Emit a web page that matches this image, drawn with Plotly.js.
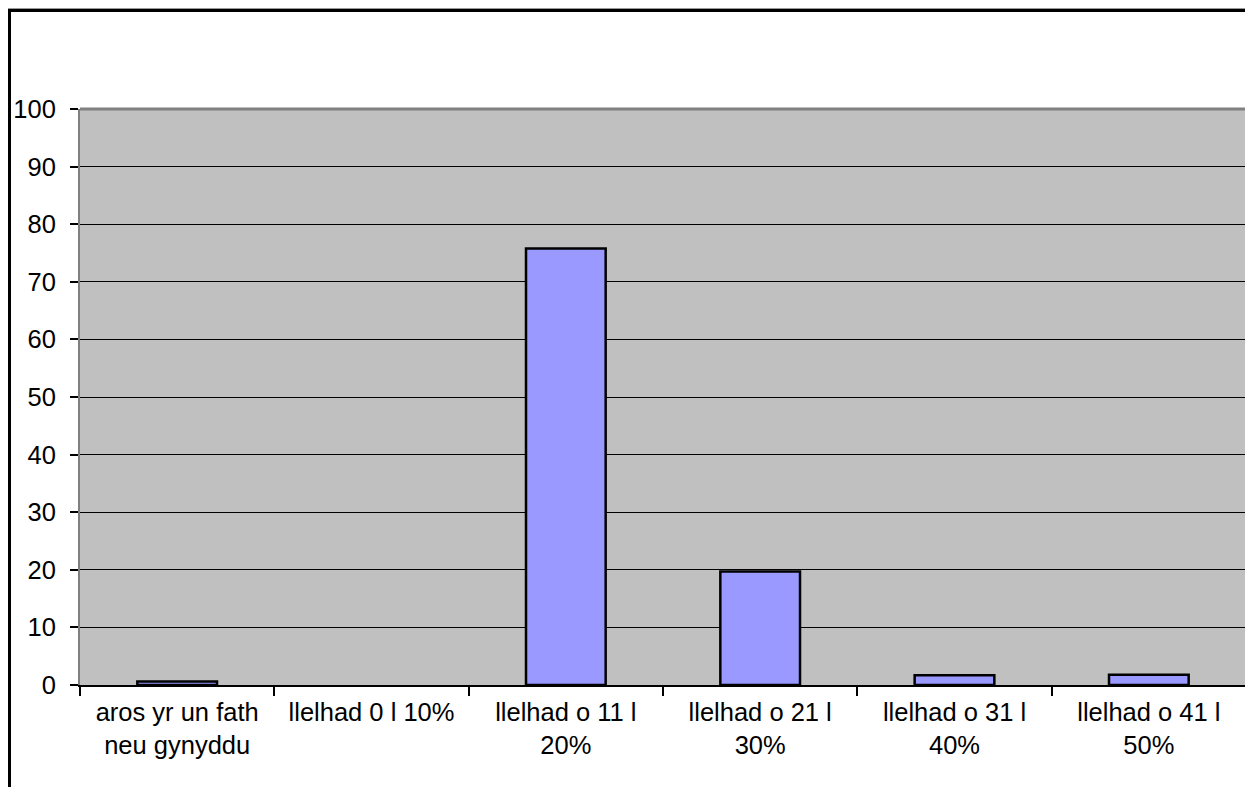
<!DOCTYPE html>
<html>
<head>
<meta charset="utf-8">
<script src="https://cdn.plot.ly/plotly-3.0.1.min.js"></script>
<style>
  html, body { margin: 0; padding: 0; overflow: hidden; background: #fff; }
  #clip { position: relative; width: 1245px; height: 787px; overflow: hidden; }
  #frame { position: absolute; left: 8px; top: 9px; width: 1400px; height: 1000px;
           border-left: 3px solid #000; border-top: 3px solid #000; }
  #topline { position: absolute; left: 8px; top: 8px; width: 1400px; height: 1px; background: #9a9a9a; }
  #chart { position: absolute; left: 0; top: 0; }
</style>
</head>
<body>
<div id="clip">
  <div id="topline"></div>
  <div id="frame"><div id="chart"></div></div>
</div>
<script>
const categories = [
  "aros yr un fath<br>neu gynyddu",
  "llelhad 0 l 10%",
  "llelhad o 11 l<br>20%",
  "llelhad o 21 l<br>30%",
  "llelhad o 31 l<br>40%",
  "llelhad o 41 l<br>50%"
];
const values = [0.6, 0, 75.8, 19.7, 1.7, 1.8];
const yTicks = [0, 10, 20, 30, 40, 50, 60, 70, 80, 90, 100];

const trace = {
  type: "bar",
  x: categories,
  y: values,
  marker: {
    color: "#9999FF",
    line: { color: "#000000", width: values.map(v => (v > 0 ? 2.5 : 0)) }
  },
  hoverinfo: "skip"
};

const layout = {
  width: 1255,
  height: 793,
  margin: { l: 69, r: 20, t: 97, b: 120 },
  paper_bgcolor: "#FFFFFF",
  plot_bgcolor: "#C0C0C0",
  bargap: 0.59,
  showlegend: false,
  font: { family: "Liberation Sans, Arial, sans-serif", size: 25.5, color: "#000" },
  xaxis: {
    type: "category",
    tickson: "boundaries",
    ticks: "outside",
    ticklen: 9,
    tickwidth: 2,
    tickcolor: "#000",
    showline: true,
    linecolor: "#000",
    linewidth: 2,
    showgrid: false,
    tickangle: 0,
    ticklabelstandoff: 3,
    automargin: false
  },
  yaxis: {
    range: [0, 100],
    tickvals: yTicks,
    ticktext: yTicks.map(String),
    ticks: "outside",
    ticklen: 8,
    tickwidth: 2,
    tickcolor: "#000",
    showline: true,
    linecolor: "#808080",
    linewidth: 2,
    showgrid: true,
    gridcolor: "#000",
    gridwidth: 1,
    zeroline: false,
    ticklabelstandoff: 9,
    automargin: false
  },
  shapes: [
    { type: "line", xref: "paper", yref: "paper", x0: 0, x1: 1, y0: 1, y1: 1,
      line: { color: "#808080", width: 3 } }
  ]
};

Plotly.newPlot("chart", [trace], layout, { staticPlot: true, displayModeBar: false });
</script>
</body>
</html>
